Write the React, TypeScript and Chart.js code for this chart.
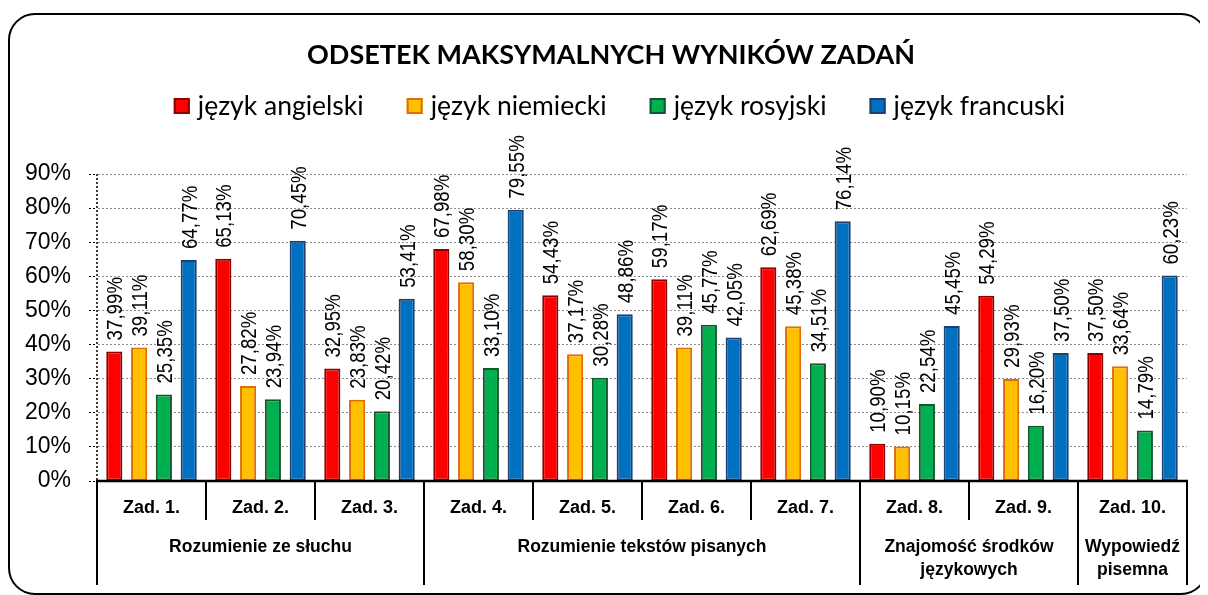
import React, { useEffect, useRef } from 'react';
import { Chart, registerables } from 'chart.js';

Chart.register(...registerables);

const titleText = 'ODSETEK MAKSYMALNYCH WYNIKÓW ZADAŃ';
const categories = ['Zad. 1.', 'Zad. 2.', 'Zad. 3.', 'Zad. 4.', 'Zad. 5.', 'Zad. 6.', 'Zad. 7.', 'Zad. 8.', 'Zad. 9.', 'Zad. 10.'];
const groupLabels = [['Rozumienie ze słuchu'], ['Rozumienie tekstów pisanych'], ['Znajomość środków', 'językowych'], ['Wypowiedź', 'pisemna']];
const groupSpans = [3, 4, 2, 1];
const seriesNames = ['język angielski', 'język niemiecki', 'język rosyjski', 'język francuski'];
const english = [37.99, 65.13, 32.95, 67.98, 54.43, 59.17, 62.69, 10.9, 54.29, 37.5];
const german = [39.11, 27.82, 23.83, 58.3, 37.17, 39.11, 45.38, 10.15, 29.93, 33.64];
const russian = [25.35, 23.94, 20.42, 33.1, 30.28, 45.77, 34.51, 22.54, 16.2, 14.79];
const french = [64.77, 70.45, 53.41, 79.55, 48.86, 42.05, 76.14, 45.45, 37.5, 60.23];
const seriesValues = [english, german, russian, french];
const yTicks = [0, 10, 20, 30, 40, 50, 60, 70, 80, 90];

const fills = ['#FF0000', '#FFC000', '#00B050', '#0070C0'];
const borders = ['#8E0000', '#E26B0A', '#17562D', '#1F3F6F'];

const ARIAL = '"Liberation Sans", Arial, sans-serif';
const CAL = 'Lato, "Open Sans", sans-serif';

const decor = {
  id: 'decor',
  beforeDraw(chart: any) {
    const ctx = chart.ctx as CanvasRenderingContext2D;
    ctx.save();
    ctx.fillStyle = '#fff';
    ctx.fillRect(0, 0, chart.width, chart.height);
    ctx.strokeStyle = '#000';
    ctx.lineWidth = 2;
    ctx.beginPath();
    (ctx as any).roundRect(1, 6, 1198, 580, 26);
    ctx.stroke();

    // title
    ctx.fillStyle = '#000';
    ctx.font = `bold 27px ${CAL}`;
    ctx.textAlign = 'center';
    ctx.textBaseline = 'middle';
    ctx.fillText(titleText, 603, 47);

    // legend
    ctx.font = `26.5px ${CAL}`;
    const box = 16, gapBT = 8, gapItem = 43;
    const widths = seriesNames.map((n) => ctx.measureText(n).width);
    const total = widths.reduce((a, b) => a + b, 0) + seriesNames.length * (box + gapBT) + (seriesNames.length - 1) * gapItem;
    let x = 611.5 - total / 2;
    ctx.textAlign = 'left';
    seriesNames.forEach((n, i) => {
      ctx.fillStyle = fills[i];
      ctx.fillRect(x, 90, box, box);
      ctx.strokeStyle = borders[i];
      ctx.lineWidth = 2;
      ctx.strokeRect(x + 1, 91, box - 2, box - 2);
      ctx.fillStyle = '#000';
      ctx.fillText(n, x + box + gapBT, 98);
      x += box + gapBT + widths[i] + gapItem;
    });
    ctx.restore();
  },
  afterDatasetsDraw(chart: any) {
    const ctx = chart.ctx as CanvasRenderingContext2D;
    chart.data.datasets.forEach((ds: any, di: number) => {
      const meta = chart.getDatasetMeta(di);
      meta.data.forEach((el: any, i: number) => {
        const v = ds.data[i] as number;
        const txt = v.toFixed(2).replace('.', ',') + '%';
        ctx.save();
        ctx.translate(el.x, el.y - 11);
        ctx.rotate(-Math.PI / 2);
        ctx.scale(0.85, 1);
        ctx.font = `22px ${ARIAL}`;
        ctx.textAlign = 'left';
        ctx.textBaseline = 'alphabetic';
        ctx.fillStyle = '#000';
        ctx.fillText(txt, 0, 7.9);
        ctx.restore();
      });
    });
  },
  afterDraw(chart: any) {
    const ctx = chart.ctx as CanvasRenderingContext2D;
    const { left, right, top, bottom } = chart.chartArea;
    const n = categories.length;
    const cw = (right - left) / n;
    ctx.save();
    // y axis dotted line
    ctx.strokeStyle = '#000';
    ctx.lineWidth = 1.5;
    ctx.setLineDash([2, 2]);
    ctx.beginPath();
    ctx.moveTo(left, top);
    ctx.lineTo(left, bottom);
    ctx.stroke();
    ctx.setLineDash([]);
    // x axis
    ctx.lineWidth = 2.5;
    ctx.beginPath();
    ctx.moveTo(left - 1, bottom);
    ctx.lineTo(right + 1, bottom);
    ctx.stroke();
    // dividers
    const groupStarts: number[] = [0];
    groupSpans.forEach((s) => groupStarts.push(groupStarts[groupStarts.length - 1] + s));
    ctx.lineWidth = 2;
    for (let i = 0; i <= n; i++) {
      const x = left + i * cw;
      const isGroup = groupStarts.includes(i);
      ctx.beginPath();
      ctx.moveTo(x, bottom);
      ctx.lineTo(x, bottom + (isGroup ? 104 : 39));
      ctx.stroke();
    }
    // category labels
    ctx.fillStyle = '#000';
    ctx.font = `bold 18px ${ARIAL}`;
    ctx.textAlign = 'center';
    ctx.textBaseline = 'middle';
    categories.forEach((c, i) => {
      const x = chart.scales.x.getPixelForValue(i);
      ctx.fillText(c, x, bottom + 27);
    });
    // group labels
    ctx.font = `bold 17.5px ${ARIAL}`;
    groupLabels.forEach((lines, gi) => {
      const x0 = left + groupStarts[gi] * cw;
      const x1 = left + groupStarts[gi + 1] * cw;
      lines.forEach((ln, li) => {
        ctx.fillText(ln, (x0 + x1) / 2, bottom + 66 + li * 23);
      });
    });
    ctx.restore();
  },
};

export default function App() {
  const ref = useRef<HTMLCanvasElement>(null);
  useEffect(() => {
    const chart = new Chart(ref.current as HTMLCanvasElement, {
      type: 'bar',
      data: {
        labels: categories,
        datasets: seriesNames.map((name, i) => ({
          label: name,
          data: seriesValues[i],
          backgroundColor: fills[i],
          borderColor: borders[i],
          borderWidth: 2,
          borderSkipped: false,
          categoryPercentage: 0.91,
          barPercentage: 0.65,
        })),
      },
      options: {
        animation: false,
        responsive: true,
        maintainAspectRatio: false,
        layout: { padding: { top: 166, right: 21, left: 0, bottom: 0 } },
        plugins: {
          legend: { display: false },
          title: { display: false },
          tooltip: { enabled: false },
        },
        scales: {
          x: {
            grid: { display: false },
            border: { display: false },
            ticks: { display: false },
            afterFit: (s: any) => {
              s.height = 114;
            },
          },
          y: {
            min: yTicks[0],
            max: yTicks[yTicks.length - 1],
            afterBuildTicks: (s: any) => {
              s.ticks = yTicks.map((v) => ({ value: v }));
            },
            ticks: {
              callback: (v: any) => v + '%',
              font: { family: ARIAL, size: 23 },
              color: '#000',
              padding: 18,
            },
            grid: {
              color: '#8c8c8c',
              lineWidth: 1,
              tickLength: 8,
              tickColor: '#000',
              tickBorderDash: [2, 2],
            },
            border: { display: true, color: 'rgba(0,0,0,0)', dash: [2, 2] },
            afterFit: (s: any) => {
              s.width = 89;
            },
          },
        },
      } as any,
      plugins: [decor],
    });
    return () => chart.destroy();
  }, []);
  return (
    <div style={{ position: 'relative', width: 1200, height: 587 }}>
      <canvas ref={ref} />
    </div>
  );
}
